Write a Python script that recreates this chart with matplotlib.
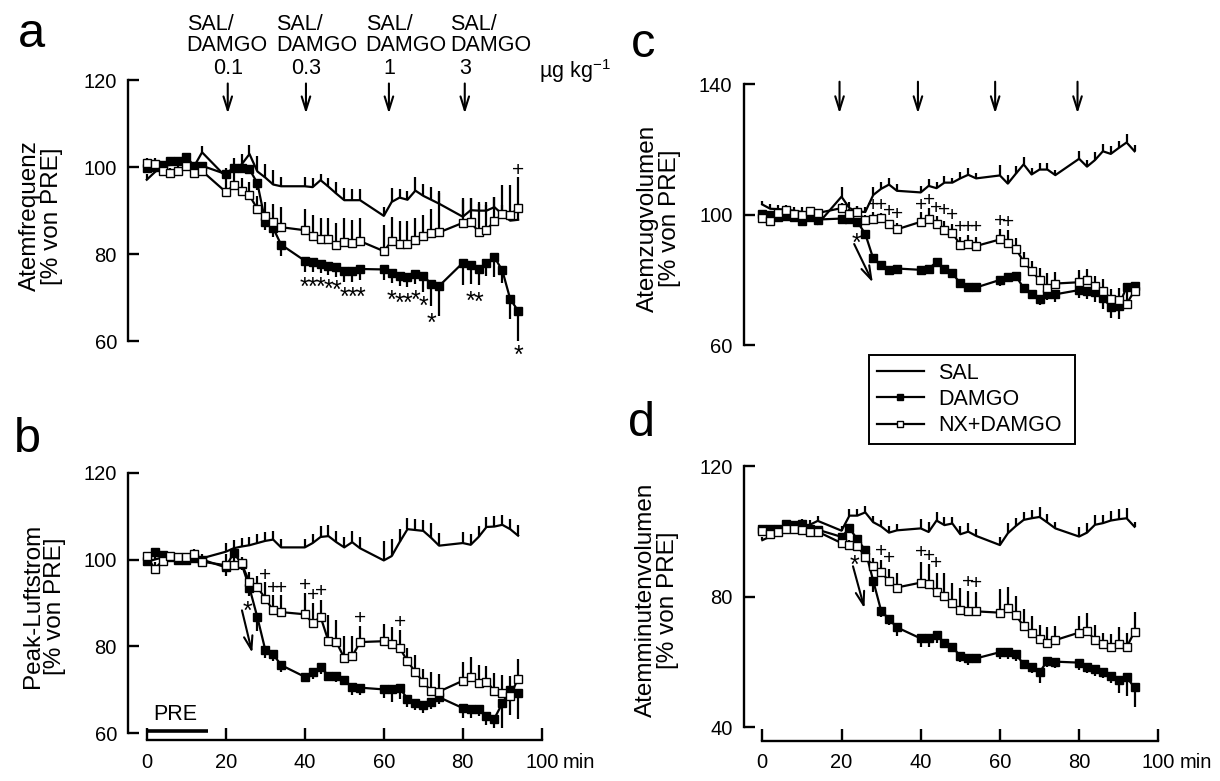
import matplotlib.pyplot as plt
from matplotlib.lines import Line2D

plt.rcParams['font.family'] = ['Liberation Sans', 'DejaVu Sans']
plt.rcParams['mathtext.fontset'] = 'custom'
plt.rcParams['mathtext.rm'] = 'Liberation Sans'
plt.rcParams['mathtext.it'] = 'Liberation Sans'

W, H = 1220, 781

# sampling times (min)
times = [0, 2, 4, 6, 8, 10, 12, 14,
         20, 22, 24, 26, 28, 30, 32, 34,
         40, 42, 44, 46, 48, 50, 52, 54,
         60, 62, 64, 66, 68, 70, 72, 74,
         80, 82, 84, 86, 88, 90, 92, 94]

# a: Atemfrequenz
sal_a = [97.1, 98.8, 100.3, 100.5, 100.8, 101.0, 100.2, 103.4,
         97.8, 99.6, 100.6, 103.0, 99.0, 97.6, 96.0, 95.6,
         95.6, 95.4, 97.0, 95.5, 93.9, 92.4, 92.4, 92.4,
         88.8, 92.0, 93.0, 92.5, 94.6, 93.4, 92.5, 91.6,
         88.6, 90.1, 90.0, 90.0, 90.8, 89.2, 87.7, 87.9]
sal_a_err = [1.2, 1.0, 1.0, 1.0, 1.0, 1.0, 1.0, 1.5,
             2.0, 2.5, 2.5, 2.0, 3.5, 3.2, 3.4, 2.2,
             2.2, 2.0, 1.5, 2.1, 2.7, 2.7, 2.6, 2.5,
             2.1, 3.3, 2.0, 2.0, 3.1, 2.7, 2.9, 2.5,
             3.8, 2.7, 2.0, 2.0, 2.3, 2.0, 2.0, 2.0]
damgo_a = [99.7, 100.0, 100.5, 101.5, 101.5, 102.3, 100.3, 100.3,
           98.4, 99.9, 99.8, 99.5, 96.3, 87.5, 86.0, 82.2,
           78.5, 78.1, 77.7, 77.2, 77.0, 76.2, 76.1, 76.6,
           76.5, 75.6, 75.0, 74.7, 75.4, 75.0, 73.2, 72.7,
           78.0, 77.5, 76.5, 77.9, 79.3, 76.3, 69.7, 67.0]
damgo_a_err = [1.0, 0.8, 1.0, 1.0, 1.0, 1.0, 0.8, 0.8,
               1.2, 1.2, 1.0, 1.0, 1.5, 2.0, 2.0, 2.7,
               2.5, 2.2, 2.0, 2.0, 2.2, 2.5, 2.5, 2.5,
               2.4, 2.3, 2.3, 2.3, 2.3, 3.7, 5.0, 6.8,
               5.0, 4.4, 3.5, 3.0, 4.5, 3.0, 4.5, 7.0]
nx_a = [100.9, 100.8, 99.0, 98.7, 99.2, 100.2, 98.6, 99.1,
        94.3, 95.8, 94.6, 93.5, 90.4, 88.7, 87.3, 86.2,
        85.5, 84.2, 83.6, 83.6, 82.0, 82.9, 82.6, 83.0,
        80.7, 83.0, 82.4, 82.4, 83.2, 84.1, 84.9, 85.0,
        87.2, 87.3, 85.2, 85.6, 87.6, 89.2, 89.1, 90.5]
nx_a_err = [1.2, 1.2, 1.0, 1.0, 1.0, 1.0, 1.0, 1.0,
            3.0, 3.0, 3.0, 3.0, 3.0, 3.3, 4.3, 4.6,
            4.9, 4.9, 4.8, 4.6, 5.2, 5.3, 5.3, 5.4,
            5.9, 5.5, 5.2, 5.2, 5.2, 5.0, 5.5, 9.4,
            5.8, 5.7, 6.3, 5.7, 5.6, 6.7, 6.8, 7.3]

# b: Peak-Luftstrom
sal_b = [99.5, 100.0, 100.5, 100.5, 100.2, 100.4, 100.5, 100.3,
         101.8, 102.6, 103.0, 103.3, 103.8, 104.3, 104.6, 102.8,
         102.8, 103.8, 105.2, 105.4, 104.0, 102.8, 104.0, 102.6,
         99.8, 100.8, 104.0, 107.0, 106.8, 106.6, 105.0, 103.2,
         103.8, 103.4, 105.2, 107.5, 107.6, 108.0, 107.0, 105.5]
sal_b_err = [1.0, 1.0, 1.0, 1.0, 1.0, 1.0, 1.5, 1.0,
             2.0, 2.0, 2.0, 2.0, 2.0, 2.0, 2.0, 2.0,
             2.0, 2.0, 2.5, 2.5, 2.5, 2.5, 2.5, 2.5,
             4.5, 4.0, 3.0, 2.5, 2.5, 2.5, 3.5, 3.0,
             2.5, 2.5, 2.5, 2.3, 2.5, 2.3, 2.3, 2.5]
damgo_b = [99.7, 101.8, 101.0, 100.5, 100.0, 100.0, 100.3, 100.0,
           98.2, 101.6, 99.0, 93.5, 86.7, 79.2, 78.2, 75.7,
           73.0, 74.0, 75.2, 73.3, 73.1, 72.2, 70.6, 70.5,
           70.1, 70.2, 70.5, 67.9, 66.9, 66.6, 67.2, 68.3,
           65.8, 65.7, 65.7, 64.0, 63.4, 66.9, 70.0, 69.2]
damgo_b_err = [1.0, 1.0, 0.8, 0.8, 0.8, 0.8, 0.8, 0.8,
               1.9, 1.5, 1.5, 1.9, 3.1, 1.9, 1.5, 1.5,
               1.2, 1.5, 1.5, 1.2, 1.2, 1.2, 1.7, 1.8,
               2.0, 3.0, 2.5, 1.9, 1.5, 2.0, 1.5, 1.5,
               2.2, 2.2, 1.8, 2.0, 2.3, 5.8, 5.8, 5.8]
nx_b = [100.8, 97.9, 99.7, 100.8, 100.6, 100.6, 101.2, 99.5,
        98.7, 98.7, 99.1, 94.8, 93.7, 91.0, 88.3, 87.9,
        87.4, 85.4, 86.8, 81.2, 81.0, 77.3, 77.7, 81.0,
        81.2, 80.5, 79.7, 76.6, 74.1, 71.8, 69.7, 69.6,
        72.1, 73.0, 71.5, 71.9, 69.8, 69.3, 68.6, 72.6]
nx_b_err = [1.0, 1.5, 1.0, 1.0, 1.0, 1.0, 1.2, 1.0,
            2.5, 1.5, 1.5, 2.4, 2.6, 3.8, 3.5, 3.9,
            4.8, 4.6, 4.0, 6.0, 5.0, 5.2, 4.8, 3.8,
            4.0, 4.0, 4.0, 3.0, 4.0, 3.1, 4.5, 4.1,
            4.3, 4.6, 4.2, 3.5, 4.0, 4.1, 4.5, 4.6]

# c: Atemzugvolumen
sal_c = [103.1, 101.8, 101.7, 101.5, 101.2, 100.8, 100.2, 97.1,
         105.5, 102.0, 101.0, 100.8, 106.0, 107.9, 109.2, 107.3,
         106.8, 108.8, 108.1, 109.8, 109.8, 111.1, 112.2, 111.1,
         112.0, 109.5, 112.5, 115.4, 112.3, 113.8, 113.8, 112.1,
         117.1, 114.7, 116.7, 119.4, 118.6, 120.4, 122.1, 119.4]
sal_c_err = [1.0, 1.5, 1.2, 1.5, 1.2, 1.5, 1.0, 1.0,
             2.9, 2.0, 1.5, 1.5, 2.5, 2.0, 2.0, 2.0,
             2.0, 2.0, 2.0, 2.0, 1.5, 2.0, 2.0, 1.5,
             3.3, 2.5, 2.5, 2.3, 2.0, 2.0, 2.0, 1.5,
             2.5, 2.0, 2.5, 2.3, 2.3, 2.0, 2.5, 2.0]
damgo_c = [100.3, 99.8, 99.2, 99.5, 99.3, 98.0, 99.3, 98.5,
           98.8, 98.6, 97.8, 94.1, 86.6, 84.5, 82.9, 83.5,
           83.1, 83.4, 85.5, 83.4, 82.0, 79.0, 77.9, 77.7,
           80.0, 81.0, 81.3, 77.5, 75.7, 74.3, 75.8, 75.6,
           76.9, 76.7, 76.2, 74.5, 71.8, 72.1, 77.8, 78.0]
damgo_c_err = [1.0, 1.0, 1.0, 1.0, 1.0, 1.0, 1.0, 1.0,
               1.0, 1.0, 1.0, 1.2, 1.5, 1.5, 1.5, 1.5,
               1.5, 1.5, 1.5, 1.5, 1.5, 1.5, 1.5, 1.5,
               1.7, 1.7, 1.5, 1.5, 1.5, 2.0, 2.0, 2.3,
               2.5, 2.5, 3.0, 3.4, 3.3, 4.1, 2.0, 1.5]
nx_c = [99.0, 98.2, 100.5, 101.5, 100.3, 99.8, 101.0, 100.5,
        102.0, 100.2, 100.8, 98.3, 98.8, 99.0, 97.0, 95.5,
        97.8, 98.8, 97.0, 95.2, 94.4, 90.7, 90.9, 90.4,
        92.4, 91.4, 89.6, 85.6, 82.8, 80.0, 77.6, 78.9,
        79.3, 80.0, 78.3, 76.7, 74.2, 73.9, 72.7, 76.7]
nx_c_err = [1.0, 1.0, 1.2, 1.0, 1.2, 1.0, 1.0, 1.0,
            1.5, 1.5, 1.7, 1.5, 2.0, 1.5, 1.5, 2.0,
            3.1, 3.1, 2.5, 3.0, 2.6, 2.4, 2.8, 2.7,
            3.1, 3.8, 3.3, 3.0, 3.0, 3.7, 4.6, 3.4,
            3.8, 3.4, 3.0, 3.6, 3.1, 3.5, 3.0, 2.5]

# d: Atemminutenvolumen
sal_d = [97.3, 98.4, 99.5, 101.0, 101.5, 101.8, 102.0, 103.2,
         100.2, 104.8, 104.8, 105.8, 102.8, 101.5, 99.6, 100.3,
         100.9, 99.8, 103.3, 101.9, 102.4, 99.1, 99.9, 98.6,
         95.8, 99.4, 101.6, 103.5, 104.0, 104.4, 102.7, 100.9,
         98.4, 99.6, 102.0, 102.5, 103.3, 103.7, 104.0, 101.4]
sal_d_err = [1.0, 1.0, 1.0, 1.5, 1.5, 2.0, 1.5, 1.5,
             1.5, 2.0, 2.0, 2.0, 2.0, 2.0, 2.0, 2.0,
             3.0, 3.0, 2.5, 2.5, 2.0, 2.5, 2.5, 2.0,
             2.5, 3.0, 2.5, 2.5, 2.5, 3.0, 2.5, 2.0,
             3.0, 3.0, 3.0, 2.5, 3.0, 3.0, 3.0, 1.5]
damgo_d = [100.6, 100.8, 100.6, 102.2, 101.9, 102.2, 100.8, 100.5,
           98.3, 100.9, 97.6, 94.2, 84.9, 75.7, 73.1, 70.6,
           67.2, 67.2, 68.3, 65.9, 64.6, 61.8, 61.1, 61.1,
           63.0, 63.1, 62.3, 59.4, 58.5, 56.8, 60.4, 60.1,
           59.8, 58.6, 57.8, 57.0, 55.7, 54.5, 55.3, 52.2]
damgo_d_err = [1.0, 1.0, 1.0, 1.0, 1.0, 1.0, 1.0, 1.0,
               1.0, 1.0, 1.0, 1.5, 3.4, 2.0, 1.7, 2.7,
               2.6, 2.6, 2.5, 1.5, 1.5, 1.7, 2.0, 1.5,
               2.2, 2.2, 2.0, 1.5, 1.8, 3.1, 1.8, 2.0,
               2.2, 2.0, 2.0, 2.0, 2.0, 4.1, 5.8, 5.9]
nx_d = [100.2, 99.3, 99.9, 100.6, 100.6, 100.4, 99.9, 99.9,
        96.4, 95.9, 95.6, 92.2, 89.4, 87.5, 84.8, 82.8,
        84.3, 83.8, 81.5, 80.2, 78.0, 75.9, 75.5, 75.5,
        75.1, 76.4, 74.4, 70.9, 69.0, 66.9, 65.7, 66.7,
        69.0, 69.6, 66.7, 65.5, 64.5, 65.5, 64.5, 69.3]
nx_d_err = [1.0, 1.0, 1.0, 1.0, 1.0, 1.0, 1.0, 1.0,
            1.5, 1.5, 1.5, 2.0, 2.5, 3.6, 3.8, 4.5,
            6.4, 6.3, 5.8, 6.9, 6.3, 6.7, 6.2, 5.9,
            7.2, 6.5, 5.8, 5.4, 5.1, 4.4, 5.1, 4.3,
            5.1, 5.3, 4.5, 3.3, 4.0, 5.3, 4.5, 6.1]

# significance marks (* DAMGO vs SAL, + NX+DAMGO vs DAMGO)
star_a_x = [40, 42, 44, 46, 48, 50, 52, 54, 62, 64, 66, 68, 70, 72, 82, 84, 94]
star_a_y = [74.0, 74.0, 74.0, 73.6, 73.4, 71.8, 71.8, 71.8,
            71.1, 70.4, 70.3, 71.1, 69.6, 65.8, 70.9, 70.6, 58.4]
plus_a_x = [94]
plus_a_y = [99.7]
star_b_x = [25.5]
star_b_y = [89.6]
plus_b_x = [30, 32, 34, 40, 42, 44, 54, 64]
plus_b_y = [96.8, 93.7, 93.7, 94.4, 92.2, 93.1, 86.9, 86.0]
star_c_x = [23.9]
star_c_y = [93.4]
plus_c_x = [28, 30, 32, 34, 40, 42, 44, 46, 48, 50, 52, 54, 60, 62]
plus_c_y = [103.4, 103.4, 101.6, 100.7, 103.3, 104.8, 102.4, 101.9,
            100.2, 96.6, 96.6, 96.6, 98.6, 98.1]
star_d_x = [23.4]
star_d_y = [91.7]
plus_d_x = [30, 32, 40, 42, 44, 52, 54]
plus_d_y = [94.3, 92.1, 94.0, 93.0, 90.6, 84.8, 84.6]

# injection arrows and dose labels
arrow_a_x = [20.5, 40.3, 61.3, 80.5]
arrow_c_x = [19.5, 39.3, 58.8, 79.6]
dose_labels = ['0.1', '0.3', '1', '3']
dose_text_left = [10.1, 32.7, 55.4, 76.7]

LW = 1.6


def px_rect(left, top, right, bottom):
    return [left / W, 1 - bottom / H, (right - left) / W, (bottom - top) / H]


def style_axis(ax, ylim, yticks, xaxis):
    """Spines, ticks and limits in the style of the original figure"""
    ax.set_xlim(-4.75, 100)
    ax.set_ylim(*ylim)
    ax.set_yticks(yticks)
    ax.spines['top'].set_visible(False)
    ax.spines['right'].set_visible(False)
    ax.spines['left'].set_bounds(yticks[0], yticks[-1])
    ax.spines['left'].set_linewidth(1.7)
    ax.tick_params(axis='y', direction='in', length=8, width=1.7,
                   pad=8, labelsize=14.5)
    if xaxis:
        ax.set_xticks([0, 20, 40, 60, 80, 100])
        ax.spines['bottom'].set_bounds(0, 100)
        ax.spines['bottom'].set_linewidth(1.7)
        ax.tick_params(axis='x', direction='in', length=9, width=1.7,
                       pad=9, labelsize=14.5)
        ax.annotate('min', xy=(105.3, 0), xycoords=('data', 'axes fraction'),
                    xytext=(0, -9), textcoords='offset points',
                    ha='left', va='top', fontsize=14.5, annotation_clip=False)
    else:
        ax.spines['bottom'].set_visible(False)
        ax.set_xticks([])
    ax.patch.set_visible(False)


def plot_series(ax, sal, sal_err, damgo, damgo_err, nx, nx_err):
    """SAL / DAMGO / NX+DAMGO with one-sided error bars"""
    ax.vlines(times, sal, [v + e for v, e in zip(sal, sal_err)],
              color='black', lw=LW, zorder=1)
    ax.vlines(times, nx, [v + e for v, e in zip(nx, nx_err)],
              color='black', lw=LW, zorder=1)
    ax.vlines(times, [v - e for v, e in zip(damgo, damgo_err)], damgo,
              color='black', lw=LW, zorder=1)
    ax.plot(times, sal, color='black', lw=LW, zorder=2)
    ax.plot(times, damgo, color='black', lw=LW, marker='s', ms=5.3,
            mfc='black', mec='black', zorder=3)
    ax.plot(times, nx, color='black', lw=LW, marker='s', ms=5.3,
            mfc='white', mec='black', mew=1, zorder=4)


def marks(ax, xs, ys, sym, size, drop):
    for x, y in zip(xs, ys):
        ax.annotate(sym, xy=(x, y), xytext=(0, -drop), textcoords='offset points',
                    ha='center', va='baseline', fontsize=size,
                    annotation_clip=False)


def arrow(ax, x0, y0, x1, y1):
    ax.annotate('', xy=(x1, y1), xytext=(x0, y0), annotation_clip=False,
                arrowprops=dict(arrowstyle='->,head_length=0.7,head_width=0.22',
                                lw=1.5, color='black', shrinkA=0, shrinkB=0,
                                mutation_scale=14))


fig = plt.figure(figsize=(W / 100, H / 100), dpi=100)

ax_a = fig.add_axes(px_rect(128, 80, 541.8, 350))
ax_b = fig.add_axes(px_rect(128, 472.7, 541.8, 740))
ax_c = fig.add_axes(px_rect(743.5, 84, 1158.3, 351.8))
ax_d = fig.add_axes(px_rect(743.5, 466, 1158.3, 740.7))

style_axis(ax_a, (58, 120), [60, 80, 100, 120], False)
style_axis(ax_b, (58.45, 120), [60, 80, 100, 120], True)
style_axis(ax_c, (58, 140), [60, 100, 140], False)
style_axis(ax_d, (35.9, 120), [40, 80, 120], True)

plot_series(ax_a, sal_a, sal_a_err, damgo_a, damgo_a_err, nx_a, nx_a_err)
plot_series(ax_b, sal_b, sal_b_err, damgo_b, damgo_b_err, nx_b, nx_b_err)
plot_series(ax_c, sal_c, sal_c_err, damgo_c, damgo_c_err, nx_c, nx_c_err)
plot_series(ax_d, sal_d, sal_d_err, damgo_d, damgo_d_err, nx_d, nx_d_err)

marks(ax_a, star_a_x, star_a_y, '*', 18, 10.5)
marks(ax_a, plus_a_x, plus_a_y, '+', 15, 5.3)
marks(ax_b, star_b_x, star_b_y, '*', 18, 10.5)
marks(ax_b, plus_b_x, plus_b_y, '+', 15, 5.3)
marks(ax_c, star_c_x, star_c_y, '*', 18, 10.5)
marks(ax_c, plus_c_x, plus_c_y, '+', 15, 5.3)
marks(ax_d, star_d_x, star_d_y, '*', 18, 10.5)
marks(ax_d, plus_d_x, plus_d_y, '+', 15, 5.3)

# injection arrows
for x in arrow_a_x:
    arrow(ax_a, x, 119.2, x, 112.3)
for x in arrow_c_x:
    arrow(ax_c, x, 140.7, x, 131.0)

# steep-drop arrows next to the first asterisk
arrow(ax_b, 24.1, 88.3, 26.7, 78.5)
arrow(ax_c, 23.2, 91.0, 27.9, 79.2)
arrow(ax_d, 22.9, 89.3, 25.8, 76.4)

# dose annotations above panel a
for left, x, lab in zip(dose_text_left, arrow_a_x, dose_labels):
    ax_a.text(left, 126.7, 'SAL/\nDAMGO', ha='left', va='baseline',
              fontsize=15.5, linespacing=1.0, clip_on=False)
    ax_a.text(x, 121.4, lab, ha='center', va='baseline', fontsize=15.5,
              clip_on=False)
ax_a.text(99.3, 120.5, r'µg kg$^{-1}$', ha='left', va='baseline',
          fontsize=15.5, clip_on=False)

# PRE bar in panel b
ax_b.plot([0, 15.6], [60.6, 60.6], color='black', lw=2.6,
          solid_capstyle='butt', clip_on=False)
ax_b.text(7.3, 63.0, 'PRE', ha='center', va='baseline', fontsize=15.5)

# y labels
ylabels = [('Atemfrequenz\n[% von PRE]', 41, 216),
           ('Peak-Luftstrom\n[% von PRE]', 44, 606),
           ('Atemzugvolumen\n[% von PRE]', 659, 218),
           ('Atemminutenvolumen\n[% von PRE]', 657, 600)]
for txt, x, y in ylabels:
    fig.text(x / W, 1 - y / H, txt, rotation=90, ha='center', va='center',
             multialignment='center', fontsize=17.5, linespacing=1.05)

# panel letters
for letter, x, y in [('a', 18, 47), ('b', 14, 452), ('c', 631, 57), ('d', 628, 436)]:
    fig.text(x / W, 1 - y / H, letter, ha='left', va='baseline', fontsize=35)

# legend
handles = [Line2D([], [], color='black', lw=LW),
           Line2D([], [], color='black', lw=LW, marker='s', ms=5, mfc='black'),
           Line2D([], [], color='black', lw=LW, marker='s', ms=5, mfc='white', mew=1)]
leg = fig.legend(handles, ['SAL', 'DAMGO', 'NX+DAMGO'], loc='upper left',
                 bbox_to_anchor=(869 / W, 1 - 453 / H, 206 / W, 98 / H),
                 mode='expand', fontsize=15.5, numpoints=1, handlelength=2.2,
                 handletextpad=0.65, borderpad=0.35, labelspacing=0.25,
                 borderaxespad=0, fancybox=False, framealpha=1)
leg.get_frame().set_edgecolor('black')
leg.get_frame().set_linewidth(1.4)

fig.savefig('out.png', dpi=100)
